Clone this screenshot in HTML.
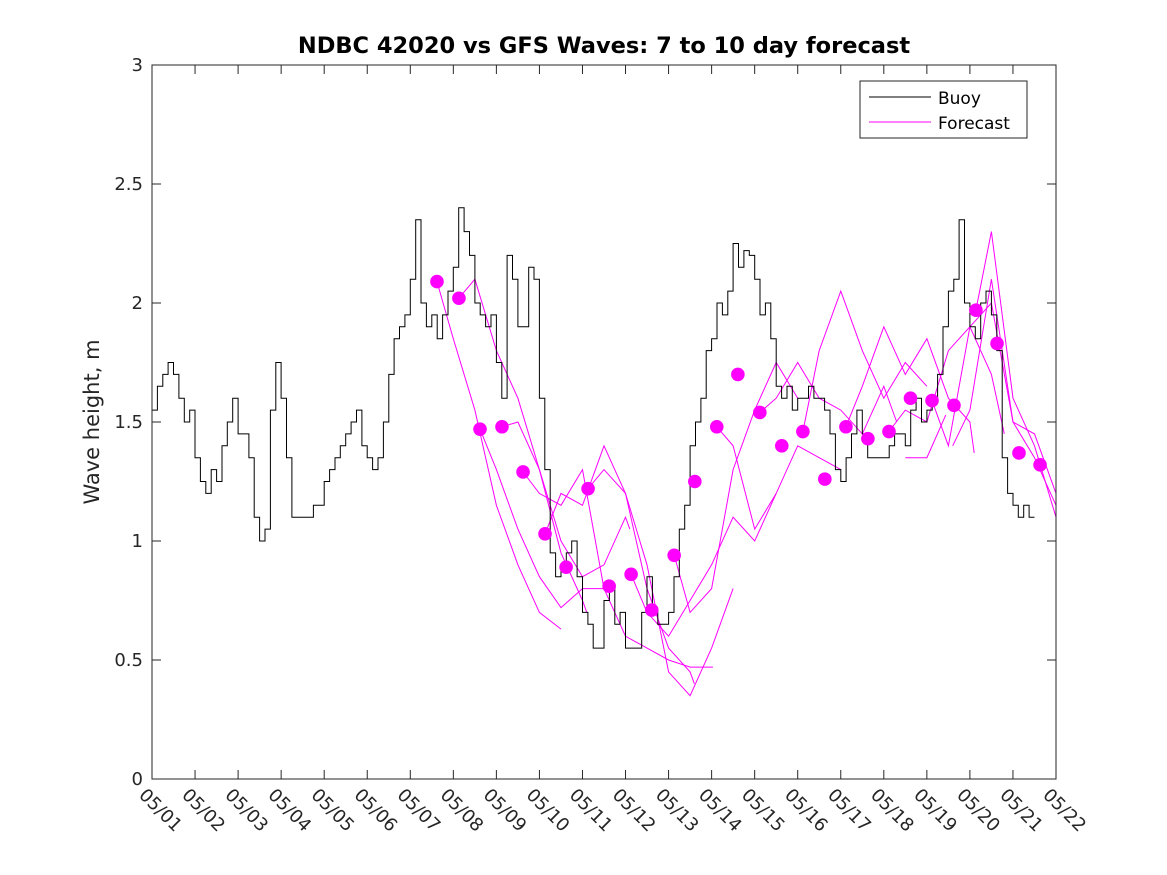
<!DOCTYPE html>
<html><head><meta charset="utf-8"><style>
body{margin:0;background:#fff;}
svg{display:block;font-family:"DejaVu Sans","Liberation Sans",sans-serif;}
</style></head><body>
<svg id="chart" width="1167" height="875" viewBox="0 0 1167 875" xmlns="http://www.w3.org/2000/svg">
<rect width="1167" height="875" fill="#fff"/>
<text x="604" y="53" text-anchor="middle" font-size="22.5" font-weight="bold">NDBC 42020 vs GFS Waves: 7 to 10 day forecast</text>
<text transform="translate(99,422) rotate(-90)" text-anchor="middle" font-size="21" fill="#262626">Wave height, m</text>
<g id="grid"></g>
<g id="fc"></g>
<g id="buoy"></g>
<g id="dots"></g>
<rect x="152" y="65" width="904" height="714" fill="none" stroke="#262626" stroke-width="1"/>
<g>
<rect x="860" y="81" width="167" height="57" fill="#fff" stroke="#262626"/>
<line x1="869" y1="97" x2="931" y2="97" stroke="#000"/>
<text x="938" y="104" font-size="17">Buoy</text>
<line x1="869" y1="122" x2="931" y2="122" stroke="#f0f"/>
<text x="938" y="129" font-size="17">Forecast</text>
</g>
</svg>
<script>
const dayLabels=["05/01","05/02","05/03","05/04","05/05","05/06","05/07","05/08","05/09","05/10","05/11","05/12","05/13","05/14","05/15","05/16","05/17","05/18","05/19","05/20","05/21","05/22"];
const yTicks=[0,0.5,1,1.5,2,2.5,3];
const buoyStep=0.125;
const buoyValues=[
1.55,1.65,1.7,1.75,1.7,1.6,1.5,1.55,
1.35,1.25,1.2,1.3,1.25,1.4,1.5,1.6,
1.45,1.45,1.35,1.1,1.0,1.05,1.55,1.75,
1.6,1.35,1.1,1.1,1.1,1.1,1.15,1.15,
1.25,1.3,1.35,1.4,1.45,1.5,1.55,1.4,
1.35,1.3,1.35,1.5,1.7,1.85,1.9,1.95,
2.1,2.35,2.0,1.9,1.95,1.85,1.95,2.05,
2.15,2.4,2.3,2.2,2.0,1.95,1.9,1.95,
1.75,1.6,2.2,2.1,1.9,1.9,2.15,2.1,
1.6,1.3,0.95,0.85,0.9,0.95,1.0,0.85,
0.7,0.65,0.55,0.55,0.75,0.8,0.65,0.7,
0.55,0.55,0.55,0.7,0.85,0.7,0.65,0.65,
0.7,0.85,1.05,1.15,1.4,1.5,1.6,1.8,
1.85,2.0,1.95,2.05,2.25,2.15,2.22,2.2,
2.1,1.95,2.0,1.85,1.65,1.6,1.65,1.55,
1.6,1.6,1.65,1.6,1.6,1.55,1.45,1.3,
1.25,1.35,1.45,1.55,1.45,1.35,1.35,1.35,
1.35,1.4,1.45,1.45,1.4,1.55,1.6,1.5,
1.55,1.6,1.7,1.9,2.05,2.1,2.35,2.0,
1.9,1.85,2.0,2.05,1.95,1.8,1.35,1.2,
1.15,1.1,1.15,1.1];
const dotDays=[6.62,7.13,7.62,8.13,8.62,9.13,9.62,10.13,10.62,11.13,11.61,12.13,12.61,13.12,13.61,14.12,14.63,15.12,15.63,16.12,16.63,17.12,17.62,18.12,18.63,19.14,19.63,20.14,20.63];
const dotValues=[2.09,2.02,1.47,1.48,1.29,1.03,0.89,1.22,0.81,0.86,0.71,0.94,1.25,1.48,1.70,1.54,1.40,1.46,1.26,1.48,1.43,1.46,1.60,1.59,1.57,1.97,1.83,1.37,1.32];
const fcDays=[
[6.62,7,7.5,8,8.5,9,9.5],
[7.13,7.5,8,8.5,9,9.5,10,10.1],
[7.62,8,8.5,9,9.5,10,10.62],
[8.13,8.5,9,9.5,10,10.5,11,11.1],
[8.62,9,9.5,10,10.5,11,11.5,12,12.5,13.03],
[9.13,9.5,10,10.5,11,11.5,12,12.5,12.6],
[10.13,10.5,11,11.5,12,12.5,13,13.5],
[11.13,11.5,12,12.5,13,13.5,14,14.5],
[12.13,12.5,13,13.5,14,14.5,15],
[13.12,13.5,14,14.5,15,15.5,16],
[14.12,14.5,15,15.5,16,16.5,17,17.3],
[15.12,15.5,16,16.5,17,17.5,18],
[16.12,16.5,17,17.5,18,18.5,19,19.1],
[17.12,17.5,18,18.5,19,19.5,19.8],
[18.12,18.5,19,19.5,20,20.5,21],
[19.14,19.5,20,20.5,21],
[18.6,19,19.5,20,20.5,21],
[17.5,18,18.44]];
const fcValues=[
[2.09,1.85,1.55,1.15,0.9,0.7,0.63],
[2.02,2.1,1.8,1.6,1.3,0.95,0.75,0.7],
[1.47,1.3,1.05,0.85,0.72,0.8,0.8],
[1.48,1.5,1.3,1.0,0.85,0.9,1.1,1.05],
[1.29,1.2,1.15,1.3,0.8,0.6,0.55,0.5,0.47,0.47],
[1.03,1.2,1.15,1.4,1.2,0.8,0.55,0.45,0.4],
[1.22,1.3,1.2,0.9,0.45,0.35,0.55,0.8],
[0.86,0.7,0.6,0.75,0.9,1.1,1.0,1.2],
[0.94,0.7,0.8,1.3,1.55,1.75,1.6],
[1.48,1.4,1.05,1.2,1.4,1.35,1.3],
[1.54,1.6,1.75,1.6,1.55,1.45,1.65,1.5],
[1.46,1.8,2.05,1.8,1.6,1.75,1.65],
[1.48,1.65,1.9,1.7,1.85,1.6,1.5,1.37],
[1.46,1.55,1.5,1.8,1.9,1.7,1.45],
[1.59,1.4,1.9,2.0,1.5,1.35,1.15],
[1.97,2.3,1.6,1.4,1.1],
[1.4,1.55,2.1,1.5,1.45,1.2],
[1.35,1.35,1.53]];
const X0=152,X1=1056,Y0=779,Y1=65;
const xs=d=>X0+d*(X1-X0)/21;
const ys=v=>Y0-v*(Y0-Y1)/3;
const NS="http://www.w3.org/2000/svg";
function mk(tag,attrs,parent){const e=document.createElementNS(NS,tag);for(const k in attrs)e.setAttribute(k,attrs[k]);parent.appendChild(e);return e;}
const grid=document.getElementById('grid');
dayLabels.forEach((lab,i)=>{
  const x=xs(i);
  const t=mk('line',{x1:x,y1:Y0,x2:x,y2:Y0-9,stroke:'#262626'},grid);
  
  
  const t2=mk('line',{x1:x,y1:Y1,x2:x,y2:Y1+9,stroke:'#262626'},grid);
  
  
  const tx=mk('text',{transform:`translate(${x-14},${Y0+17}) rotate(45)`,'font-size':18,fill:'#262626'},grid);
  tx.textContent=lab;
  
  
});
yTicks.forEach(v=>{
  const y=ys(v);
  const t=mk('line',{x1:X0,y1:y,x2:X0+9,y2:y,stroke:'#262626'},grid);
  
  
  const t2=mk('line',{x1:X1,y1:y,x2:X1-9,y2:y,stroke:'#262626'},grid);
  
  
  const tx=mk('text',{x:X0-9,y:y+6,'text-anchor':'end','font-size':18,fill:'#262626'},grid);
  tx.textContent=String(v);
  
  
});
const fc=document.getElementById('fc');
fcDays.forEach((ds,i)=>{
  const pts=ds.map((d,j)=>xs(d).toFixed(1)+','+ys(fcValues[i][j]).toFixed(1)).join(' ');
  const p=mk('polyline',{points:pts,fill:'none',stroke:'#f0f','stroke-width':1},fc);
  
  
});
let bp=[];
buoyValues.forEach((v,i)=>{
  const x0=xs(i*buoyStep),x1=xs((i+1)*buoyStep),y=ys(v);
  bp.push(x0.toFixed(1)+','+y.toFixed(1),x1.toFixed(1)+','+y.toFixed(1));
});
const b=mk('polyline',{points:bp.join(' '),fill:'none',stroke:'#000','stroke-width':1},document.getElementById('buoy'));


const dots=document.getElementById('dots');
dotDays.forEach((d,i)=>{
  const c=mk('circle',{cx:xs(d),cy:ys(dotValues[i]),r:6.8,fill:'#f0f'},dots);
  
  
});
</script>
</body></html>
